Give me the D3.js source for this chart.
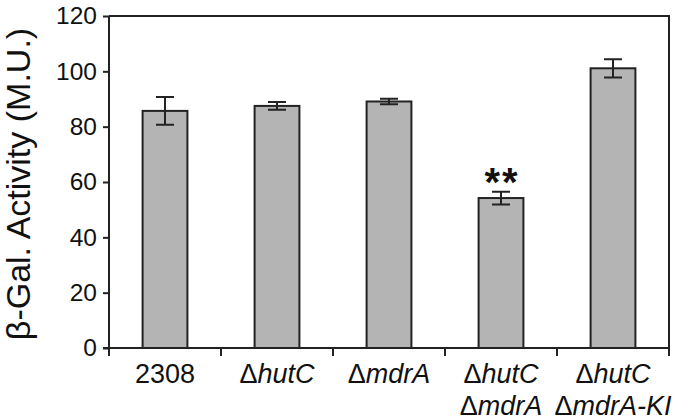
<!DOCTYPE html>
<html>
<head>
<meta charset="utf-8">
<script src="https://cdn.jsdelivr.net/npm/d3@7"></script>
<style>
  body { margin: 0; background: #fff; }
  text { font-family: "Liberation Sans", Arial, sans-serif; fill: #111; }
</style>
</head>
<body>
<div id="chart"></div>
<script>
var strains = ['2308', 'hutC', 'mdrA', 'hutC mdrA', 'hutC mdrA-KI'];
var activity = [85.7, 87.5, 89.1, 54.2, 101.1];
var errors = [5.0, 1.4, 1.0, 2.3, 3.3];
var yTicks = [0, 20, 40, 60, 80, 100, 120];
// label lines per strain: [text, italic?]
var labelLines = [
    [[['2308', false]]],
    [[['\u0394', false], ['hutC', true]]],
    [[['\u0394', false], ['mdrA', true]]],
    [[['\u0394', false], ['hutC', true]], [['\u0394', false], ['mdrA', true]]],
    [[['\u0394', false], ['hutC', true]], [['\u0394', false], ['mdrA-KI', true]]]
];
var stars = ['', '', '', '**', ''];

var width = 700, height = 420;
var mLeft = 109, mRight = 669, mTop = 16, mBottom = 348;

var svg = d3.select('#chart').append('svg')
    .attr('width', width)
    .attr('height', height);

var x = d3.scaleBand().domain(strains).range([mLeft, mRight]).padding(0);
var y = d3.scaleLinear().domain([0, 120]).range([mBottom, mTop]);

// frame: top + right
svg.append('path')
    .attr('d', `M${mLeft},${mTop}H${mRight}V${mBottom}`)
    .attr('fill', 'none')
    .attr('stroke', '#222')
    .attr('stroke-width', 2);

// y axis
var yAxis = svg.append('g').attr('transform', `translate(${mLeft},0)`)
    .call(d3.axisLeft(y).tickValues(yTicks).tickSize(6).tickPadding(6));
yAxis.select('.domain').attr('d', `M0,${mTop}V${mBottom + 8}`).attr('stroke', '#222').attr('stroke-width', 2);
yAxis.selectAll('.tick line').attr('stroke', '#222').attr('stroke-width', 2);
yAxis.selectAll('.tick text').attr('font-size', 24.5).attr('fill', '#111')
    .attr('font-family', '"Liberation Sans", Arial, sans-serif');

// x axis
var xAxis = svg.append('g').attr('transform', `translate(0,${mBottom})`);
xAxis.append('line')
    .attr('x1', mLeft - 6).attr('x2', mRight)
    .attr('stroke', '#222').attr('stroke-width', 2);
xAxis.selectAll('line.tk')
    .data(strains.slice(1).concat(['end']))
    .enter().append('line')
    .attr('class', 'tk')
    .attr('x1', (d, i) => i < strains.length - 1 ? x(d) : mRight)
    .attr('x2', (d, i) => i < strains.length - 1 ? x(d) : mRight)
    .attr('y1', 0).attr('y2', 8)
    .attr('stroke', '#222').attr('stroke-width', 2);

var bw = x.bandwidth() * 0.4;
var bars = svg.append('g').selectAll('g').data(strains).enter().append('g');

bars.append('rect')
    .attr('x', d => x(d) + x.bandwidth() / 2 - bw / 2)
    .attr('y', (d, i) => y(activity[i]))
    .attr('width', bw)
    .attr('height', (d, i) => y(0) - y(activity[i]))
    .attr('fill', '#b4b4b4')
    .attr('stroke', '#222')
    .attr('stroke-width', 2);

// error bars
bars.append('path')
    .attr('d', (d, i) => {
        var cx = x(d) + x.bandwidth() / 2;
        var hi = y(activity[i] + errors[i]), lo = y(activity[i] - errors[i]);
        return `M${cx - 9},${hi}H${cx + 9}M${cx},${hi}V${lo}M${cx - 9},${lo}H${cx + 9}`;
    })
    .attr('fill', 'none')
    .attr('stroke', '#222')
    .attr('stroke-width', 2);

// significance stars
bars.append('text')
    .attr('x', d => x(d) + x.bandwidth() / 2 + 1)
    .attr('y', (d, i) => y(activity[i] + errors[i]) + 4)
    .attr('text-anchor', 'middle')
    .attr('font-size', 40)
    .attr('font-weight', 'bold')
    .attr('letter-spacing', 2)
    .text((d, i) => stars[i]);

// category labels
bars.each(function (d, i) {
    var g = d3.select(this);
    labelLines[i].forEach((line, j) => {
        var t = g.append('text')
            .attr('x', x(d) + x.bandwidth() / 2)
            .attr('y', mBottom + 35 + j * 32)
            .attr('text-anchor', 'middle')
            .attr('font-size', 27);
        line.forEach(part => {
            t.append('tspan').attr('font-style', part[1] ? 'italic' : 'normal').text(part[0]);
        });
    });
});

// y label
svg.append('text')
    .attr('transform', `translate(30,${(mTop + mBottom) / 2 + 2}) rotate(-90)`)
    .attr('text-anchor', 'middle')
    .attr('font-size', 34)
    .text('\u03B2-Gal. Activity (M.U.)');
</script>
</body>
</html>
